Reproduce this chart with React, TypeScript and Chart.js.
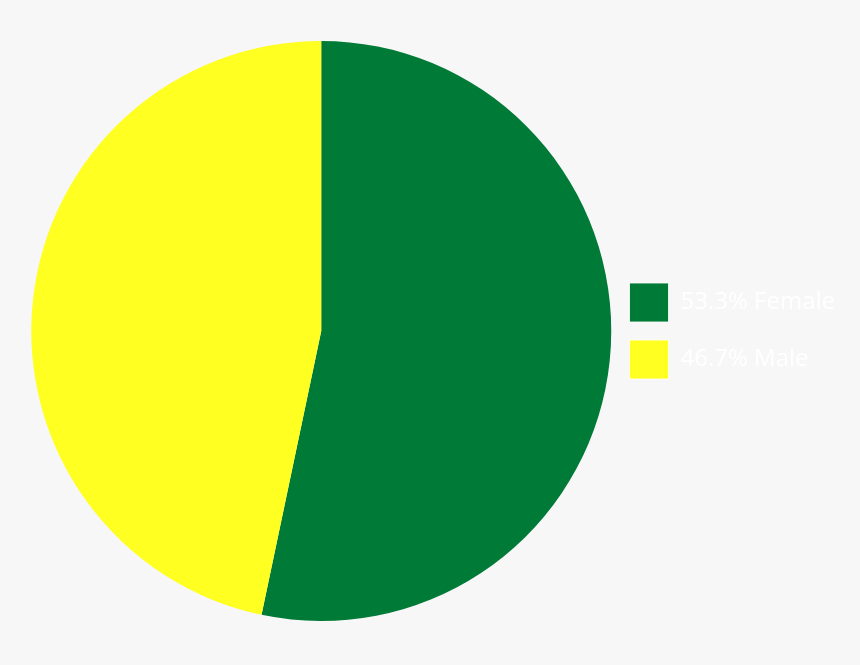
import { useEffect, useRef } from 'react';
import { Chart, registerables } from 'chart.js';
Chart.register(...registerables);

const categories = ['Female', 'Male'];
const shares = [53.3, 46.7];
const colors = ['#007a37', '#ffff22'];

export default function App() {
  const pieRef = useRef<HTMLCanvasElement>(null);

  useEffect(() => {
    document.body.style.margin = '0';
    document.body.style.background = '#f7f7f7';

    const baseLabels = Chart.overrides.pie.plugins.legend.labels.generateLabels;

    const pie = new Chart(pieRef.current!, {
      type: 'pie',
      data: {
        labels: categories,
        datasets: [{
          data: shares,
          backgroundColor: colors,
          borderWidth: 0,
        }],
      },
      options: {
        responsive: true, maintainAspectRatio: false,
        animation: false,
        layout: { padding: { left: 31, top: 41, bottom: 44, right: 15 } },
        plugins: {
          tooltip: { enabled: false },
          legend: {
            position: 'right',
            align: 'center',
            labels: {
              boxWidth: 39, boxHeight: 39, padding: 18,
              color: '#ffffff',
              font: { family: '"Open Sans", sans-serif', size: 24 },
              generateLabels: (chart: Chart) =>
                baseLabels(chart).map((item: any, i: number) => ({
                  ...item,
                  text: `${shares[i].toFixed(1)}% ${categories[i]}`,
                  lineWidth: 1,
                  strokeStyle: 'rgba(255,255,255,0.8)',
                  fontColor: '#ffffff',
                })),
            },
          },
        },
      },
    });

    return () => { pie.destroy(); };
  }, []);

  return (
    <div style={{ width: 860, height: 665, position: 'relative', background: '#f7f7f7' }}>
      <canvas ref={pieRef} />
    </div>
  );
}
